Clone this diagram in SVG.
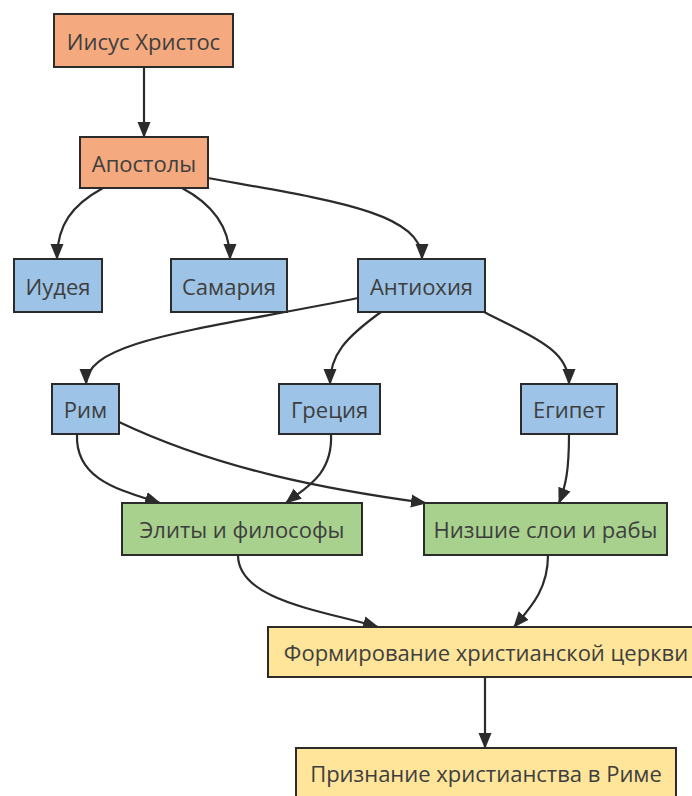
<svg xmlns="http://www.w3.org/2000/svg" width="692" height="796" viewBox="0 0 692 796">
<style>
.n rect{stroke:#2b2b2b;stroke-width:2}
.o rect{fill:#F4AA7E}
.b rect{fill:#9DC3E6}
.g rect{fill:#A9D18E}
.y rect{fill:#FFE59A}
.n text{font-family:"Open Sans","Noto Sans",sans-serif;font-size:22px;fill:#3e3e3e;text-anchor:middle;dominant-baseline:central}
.e path{fill:none;stroke:#2b2b2b;stroke-width:2.2;marker-end:url(#ah)}
</style>
<defs>
<marker id="ah" markerUnits="userSpaceOnUse" markerWidth="16" markerHeight="16" viewBox="0 0 16 16" refX="15" refY="8" orient="auto">
<path d="M0,1.5 L16,8 L0,14.5 Z" fill="#2b2b2b"/>
</marker>
</defs>
<rect width="692" height="796" fill="#fff"/>
<g id="edges" class="e">
<path d="M144,67 L144,137"/>
<path d="M103,188 C72,205 57,225 57,259"/>
<path d="M182,188 C214,205 230,228 230,259"/>
<path d="M208,178 C330,200 422,212 422,259"/>
<path d="M358,298 C200,330 86,340 86,384"/>
<path d="M381,312 C345,338 330,355 330,384"/>
<path d="M484,312 C540,340 569,352 569,384"/>
<path d="M77,434 C75,480 120,490 160,503"/>
<path d="M331,434 C333,475 305,488 286,503"/>
<path d="M119,422 C220,470 330,490 426,503"/>
<path d="M569,434 C569,470 566,485 559,503"/>
<path d="M238,555 C238,600 320,610 378,627"/>
<path d="M548,555 C548,590 530,608 514,627"/>
<path d="M485,677 L485,748"/>
</g>
<g id="jesus" class="n o"><rect x="54" y="14" width="179" height="53"/><text x="143.5" y="41">Иисус Христос</text></g>
<g id="apostles" class="n o"><rect x="80" y="137" width="128" height="51"/><text x="144" y="163">Апостолы</text></g>
<g id="judea" class="n b"><rect x="14" y="259" width="88" height="53"/><text x="58" y="286">Иудея</text></g>
<g id="samaria" class="n b"><rect x="171" y="259" width="116" height="53"/><text x="229" y="286">Самария</text></g>
<g id="antioch" class="n b"><rect x="358" y="259" width="127" height="53"/><text x="421.5" y="286">Антиохия</text></g>
<g id="rome" class="n b"><rect x="52" y="384" width="67" height="50"/><text x="85.5" y="409">Рим</text></g>
<g id="greece" class="n b"><rect x="279" y="384" width="101" height="50"/><text x="329.5" y="409">Греция</text></g>
<g id="egypt" class="n b"><rect x="521" y="384" width="96" height="50"/><text x="569" y="409">Египет</text></g>
<g id="elites" class="n g"><rect x="122" y="503" width="240" height="52"/><text x="242" y="529">Элиты и философы</text></g>
<g id="lower" class="n g"><rect x="424" y="503" width="243" height="52"/><text x="545.5" y="529">Низшие слои и рабы</text></g>
<g id="church" class="n y"><rect x="268" y="627" width="436" height="50"/><text x="486" y="652">Формирование христианской церкви</text></g>
<g id="recognition" class="n y"><rect x="296" y="748" width="380" height="50"/><text x="486" y="773">Признание христианства в Риме</text></g>
</svg>
